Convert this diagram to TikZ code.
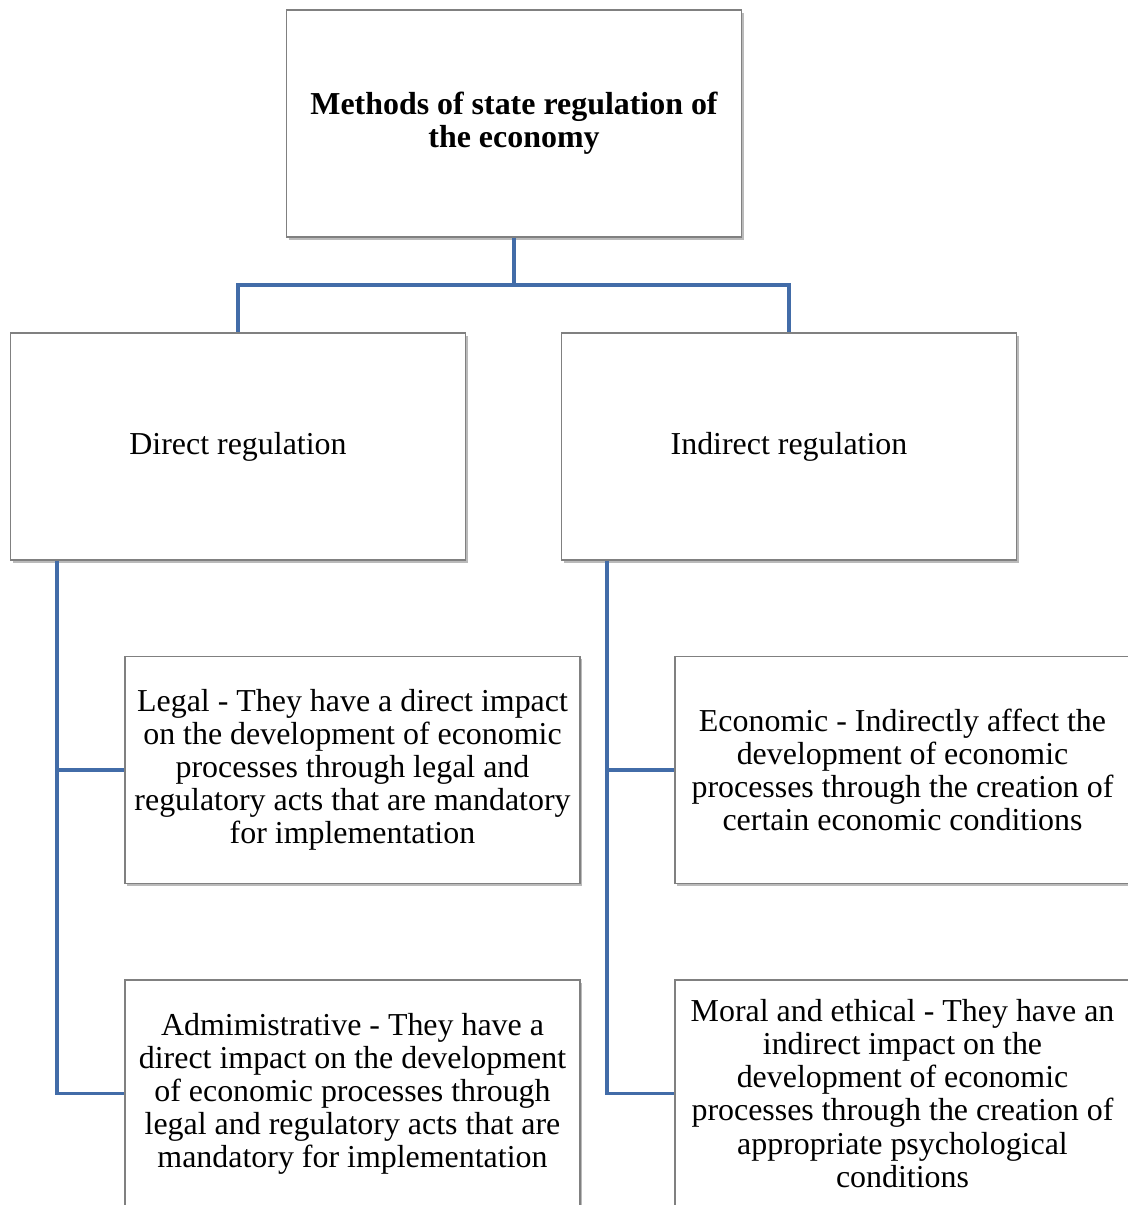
\documentclass[tikz,border=0pt]{standalone}
\usepackage{fontspec}
\setmainfont{Liberation Serif}
\usetikzlibrary{shadows}

\definecolor{linkblue}{RGB}{66,108,168}
\definecolor{boxgray}{RGB}{128,128,128}

\tikzset{
  box/.style={draw=boxgray, line width=0.9pt, fill=white,
    minimum width=11.375cm, minimum height=5.675cm,
    align=center, inner sep=0pt,
    font=\fontsize{22.7}{23.5}\selectfont,
    drop shadow={shadow xshift=0.06cm, shadow yshift=-0.07cm, opacity=0.45, fill=black!60}},
  link/.style={draw=linkblue, line width=2.8pt}
}

\begin{document}
\begin{tikzpicture}[x=0.025cm, y=-0.025cm]
\useasboundingbox (0,0) rectangle (1128,1205);
\fill[white] (0,0) rectangle (1128,1205);

% top level
\node[box, font=\fontsize{22.7}{23.5}\selectfont\bfseries] (top) at (514,123.5)
  {Methods of state regulation of\\the economy};

% two kinds of regulation
\node[box] (direct) at (238,446.5) {Direct regulation};
\node[box] (indirect) at (789,446.5) {Indirect regulation};

% methods
\node[box] (legal) at (352.5,770)
  {Legal - They have a direct impact\\on the development of economic\\processes through legal and\\regulatory acts that are mandatory\\for implementation};
\node[box] (admin) at (352.5,1093.5)
  {Admimistrative - They have a\\direct impact on the development\\of economic processes through\\legal and regulatory acts that are\\mandatory for implementation};
\node[box] (economic) at (902.5,770)
  {Economic - Indirectly affect the\\development of economic\\processes through the creation of\\certain economic conditions};
\node[box] (moral) at (902.5,1093.5)
  {Moral and ethical - They have an\\indirect impact on the\\development of economic\\processes through the creation of\\appropriate psychological\\conditions};

\coordinate (split) at (514,285);
\coordinate (dspine) at ([xshift=1.175cm]direct.south west);
\coordinate (ispine) at ([xshift=1.15cm]indirect.south west);

\draw[link] (top.south) -- (split);
\draw[link] (split) -| (direct.north);
\draw[link] (split) -| (indirect.north);

\draw[link] (dspine) |- (legal.west);
\draw[link] (dspine) |- (admin.west);
\draw[link] (ispine) |- (economic.west);
\draw[link] (ispine) |- (moral.west);
\end{tikzpicture}
\end{document}
